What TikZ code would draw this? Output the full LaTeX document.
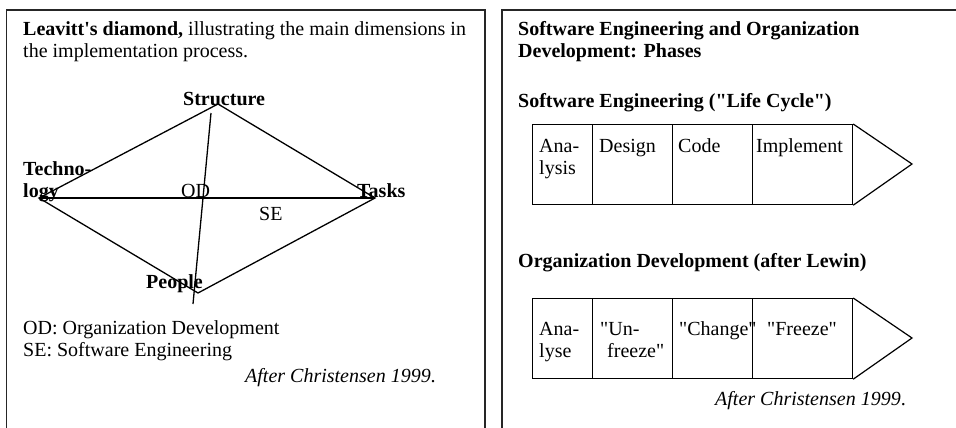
\documentclass[tikz,border=0pt]{standalone}
\usepackage{fontspec}
\setmainfont{Liberation Serif}
\newcommand\qd{\textquotedbl}
\begin{document}
\begin{tikzpicture}[x=1pt,y=-1pt,
  font=\fontsize{20}{22}\selectfont,
  txt/.style={inner sep=0pt, anchor=base west, align=left},
  frame/.style={line width=1.6pt, draw=black!85},
  edge/.style={line width=1.3pt},
  cell/.style={draw, line width=1.2pt, rectangle, inner sep=0pt,
    anchor=north west, minimum height=80pt}]
\useasboundingbox (0,0) rectangle (956,428);
\clip (0,0) rectangle (956,428);
\fill[white] (0,0) rectangle (956,428);

% the two panel frames (open at the bottom and on the far right)
\draw[frame] (6.5,440) -- (6.5,10) -- (485,10) -- (485,440);
\draw[frame] (502,440) -- (502,10) -- (970,10);

% ---------- left panel: Leavitt's diamond ----------
% (multi-line nodes are placed by the baseline of their last line)
\node[txt] (lvtitle) at (23,58)
  {\textbf{Leavitt\textquotesingle s diamond,} illustrating the main dimensions in\\
   the implementation process.};

\coordinate (tec) at (39,198);
\coordinate (tas) at (375,198);
\coordinate (str) at (218,104);
\coordinate (peo) at (198,293);
\coordinate (odtop) at (211,113);
\coordinate (odbot) at (193,304);

\draw[edge] (tec) -- (str) -- (tas) -- (peo) -- cycle;
\draw[edge] (tec) -- (tas);
\draw[edge] (odtop) -- (odbot);

\node[txt] (lstr) at (183,106) {\textbf{Structure}};
\node[txt] (ltec) at (23,197) {\textbf{Techno-}\\\textbf{logy}};
\node[txt] (lod)  at (181,197) {OD};
\node[txt] (ltas) at (357,197) {\textbf{Tasks}};
\node[txt] (lse)  at (259,220) {SE};
\node[txt] (lpeo) at (146,288) {\textbf{People}};

\node[txt] (legend) at (23,356)
  {OD: Organization Development\\SE: Software Engineering};
\node[txt] (srcl) at (245,382) {\textit{After Christensen 1999}.};

% ---------- right panel: phases ----------
\node[txt] (phtitle) at (518,58)
  {\textbf{Software Engineering and Organization}\\\textbf{Development: Phases}};
\node[txt] (sehead) at (518,107) {\textbf{Software Engineering (\qd Life Cycle\qd)}};
\node[txt] (odhead) at (518,267) {\textbf{Organization Development (after Lewin)}};

% life-cycle arrow
\node[cell, minimum width=60pt]  (sa) at (532,124) {};
\node[cell, minimum width=80pt]  (sb) at (592,124) {};
\node[cell, minimum width=80pt]  (sc) at (672,124) {};
\node[cell, minimum width=100pt] (sd) at (752,124) {};
\coordinate (stip) at (912,164);
\draw[line width=1.2pt] (sd.north east) -- (stip) -- (sd.south east);

\node[txt] (ta) at (539,174) {Ana-\\lysis};
\node[txt] (tb) at (599,152) {Design};
\node[txt] (tc) at (678,152) {Code};
\node[txt] (td) at (756,152) {Implement};

% Lewin arrow
\node[cell, minimum width=60pt]  (oa) at (532,298) {};
\node[cell, minimum width=80pt]  (ob) at (592,298) {};
\node[cell, minimum width=80pt]  (oc) at (672,298) {};
\node[cell, minimum width=100pt] (od) at (752,298) {};
\coordinate (otip) at (912,338);
\draw[line width=1.2pt] (od.north east) -- (otip) -- (od.south east);

\node[txt] (ua) at (539,357) {Ana-\\lyse};
\node[txt] (ub1) at (600,335) {\qd Un-};
\node[txt] (ub2) at (607,357) {freeze\qd};
\node[txt] (uc) at (679,335) {\qd Change\qd};
\node[txt] (ud) at (767,335) {\qd Freeze\qd};

\node[txt] (srcr) at (715,405) {\textit{After Christensen 1999}.};
\end{tikzpicture}
\end{document}
